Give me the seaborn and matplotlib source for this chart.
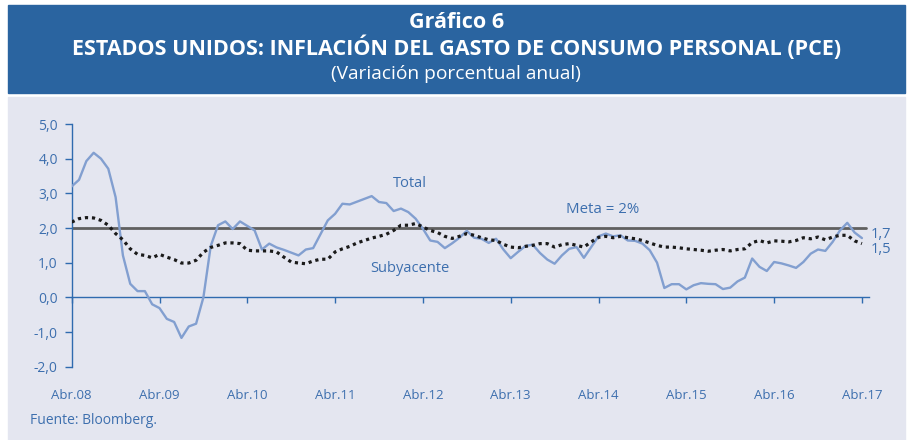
import numpy as np
import pandas as pd
import seaborn as sns
import matplotlib.pyplot as plt
from matplotlib.patches import Rectangle

# monthly data, Abr.08 .. Abr.17
total = [3.20, 3.39, 3.93, 4.17, 4.00, 3.71, 2.89, 1.21, 0.39, 0.18, 0.18, -0.20,
         -0.31, -0.62, -0.71, -1.17, -0.84, -0.76, 0.00, 1.48, 2.08, 2.19, 1.97, 2.19,
         2.06, 1.93, 1.38, 1.55, 1.44, 1.37, 1.29, 1.21, 1.38, 1.42, 1.82, 2.22,
         2.41, 2.70, 2.68, 2.76, 2.84, 2.92, 2.75, 2.72, 2.49, 2.56, 2.46, 2.27,
         1.98, 1.64, 1.60, 1.42, 1.56, 1.72, 1.92, 1.72, 1.69, 1.57, 1.69, 1.38,
         1.13, 1.31, 1.48, 1.52, 1.28, 1.09, 0.97, 1.21, 1.40, 1.45, 1.14, 1.45,
         1.76, 1.84, 1.76, 1.79, 1.64, 1.63, 1.55, 1.36, 1.00, 0.27, 0.38, 0.38,
         0.23, 0.35, 0.41, 0.39, 0.38, 0.24, 0.28, 0.46, 0.57, 1.12, 0.88, 0.76,
         1.02, 0.98, 0.92, 0.85, 1.02, 1.26, 1.38, 1.34, 1.60, 1.93, 2.15, 1.87,
         1.71]
subyacente = [2.17, 2.27, 2.30, 2.29, 2.22, 2.08, 1.84, 1.66, 1.40, 1.24, 1.21, 1.14,
              1.24, 1.16, 1.09, 0.99, 0.99, 1.07, 1.30, 1.44, 1.50, 1.57, 1.57, 1.55,
              1.36, 1.34, 1.34, 1.34, 1.31, 1.16, 1.02, 0.99, 0.97, 1.05, 1.10, 1.10,
              1.31, 1.40, 1.47, 1.57, 1.64, 1.71, 1.76, 1.82, 1.93, 2.08, 2.08, 2.13,
              2.03, 1.93, 1.87, 1.76, 1.70, 1.76, 1.84, 1.79, 1.72, 1.66, 1.64, 1.53,
              1.45, 1.43, 1.47, 1.50, 1.55, 1.55, 1.45, 1.52, 1.55, 1.50, 1.45, 1.60,
              1.73, 1.76, 1.72, 1.76, 1.72, 1.69, 1.64, 1.57, 1.50, 1.45, 1.45, 1.43,
              1.40, 1.38, 1.36, 1.33, 1.36, 1.38, 1.34, 1.38, 1.40, 1.58, 1.64, 1.57,
              1.63, 1.62, 1.60, 1.64, 1.72, 1.69, 1.74, 1.66, 1.74, 1.79, 1.79, 1.63,
              1.55]
meta = 2.0
x_labels = ["Abr.08", "Abr.09", "Abr.10", "Abr.11", "Abr.12",
            "Abr.13", "Abr.14", "Abr.15", "Abr.16", "Abr.17"]
y_ticks = [-2, -1, 0, 1, 2, 3, 4, 5]

df = pd.DataFrame({"mes": np.arange(len(total)), "total": total, "sub": subyacente})

sns.set_theme(style="white")
plt.rcParams["font.family"] = ["Open Sans", "DejaVu Sans"]

azul = "#2a64a0"
texto = "#3d6fae"
panel = "#e4e6f0"

fig = plt.figure(figsize=(9.07, 4.40), dpi=100)
fig.patch.set_facecolor("white")
fig.add_artist(Rectangle((8 / 907, 1 - 93 / 440), 897 / 907, 88 / 440,
                         transform=fig.transFigure, color=azul, zorder=0))
fig.add_artist(Rectangle((8 / 907, 0), 897 / 907, 343 / 440,
                         transform=fig.transFigure, color=panel, zorder=0))

fig.text(0.503, 1 - 22 / 440, "Gráfico 6", color="white", fontsize=15.5,
         fontweight="bold", ha="center", va="center")
fig.text(0.503, 1 - 48 / 440,
         "ESTADOS UNIDOS: INFLACIÓN DEL GASTO DE CONSUMO PERSONAL (PCE)",
         color="white", fontsize=15.5, fontweight="bold", ha="center", va="center")
fig.text(0.503, 1 - 74 / 440, "(Variación porcentual anual)", color="white",
         fontsize=13.8, ha="center", va="center")
fig.text(30 / 907, 1 - 420 / 440, "Fuente: Bloomberg.", color=texto,
         fontsize=10, ha="left", va="center")

ax = fig.add_axes([71.7 / 907, 73.3 / 440, 796.8 / 907, 242.7 / 440])
ax.set_facecolor(panel)

ax.axhline(meta, xmin=0, xmax=108.6 / 108.9, color="#606060", lw=2.0, zorder=2)
sns.lineplot(data=df, x="mes", y="total", color="#829fd0", lw=1.7, ax=ax, zorder=3)
sns.lineplot(data=df, x="mes", y="sub", color="#1a1a1a", lw=2.3,
             linestyle=(0, (1.0, 1.2)), ax=ax, zorder=4)

ax.set_xlim(0, 108.9)
ax.set_ylim(-2, 5)
ax.set_xlabel("")
ax.set_ylabel("")

for s in ["top", "right"]:
    ax.spines[s].set_visible(False)
ax.spines["left"].set_color("#2f6baf")
ax.spines["bottom"].set_color("#2f6baf")
ax.spines["bottom"].set_position(("data", 0))
ax.spines["left"].set_linewidth(1.0)
ax.spines["bottom"].set_linewidth(1.0)

ax.set_yticks(y_ticks)
ax.set_yticklabels([f"{v:.1f}".replace(".", ",") for v in y_ticks])
ax.set_xticks(np.arange(0, len(total), 12))
ax.set_xticklabels(x_labels)
ax.tick_params(axis="y", direction="out", length=5, width=1, color="#2f6baf",
               labelcolor=texto, labelsize=10, pad=5, left=True)
ax.tick_params(axis="x", direction="out", length=4, width=1, color="#2f6baf",
               labelcolor=texto, labelsize=9.5, pad=62, bottom=True)

ax.text(46.2, 3.29, "Total", color=texto, fontsize=10.5, ha="center", va="center")
ax.text(46.2, 0.84, "Subyacente", color=texto, fontsize=10.5, ha="center", va="center")
ax.text(72.5, 2.54, "Meta = 2%", color=texto, fontsize=10.8, ha="center", va="center")
ax.text(109.2, 1.82, "1,7", color=texto, fontsize=10.5, ha="left", va="center")
ax.text(109.2, 1.38, "1,5", color=texto, fontsize=10.5, ha="left", va="center")

fig.savefig("out.png", dpi=100, facecolor=fig.get_facecolor())
